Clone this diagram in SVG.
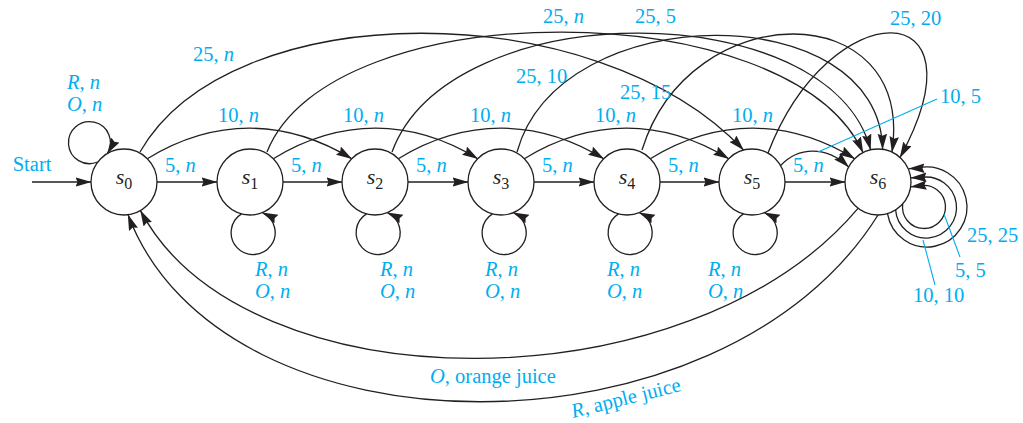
<svg xmlns="http://www.w3.org/2000/svg" width="1023" height="423" viewBox="0 0 1023 423">
<style>
.e{fill:none;stroke:#231f20;stroke-width:1.3;marker-end:url(#ah)}
.n{fill:#fff;stroke:#231f20;stroke-width:1.3}
.l{font-family:"Liberation Serif","Times New Roman",serif;font-size:20.5px;fill:#00aeef}
.i{font-style:italic}
.s{font-family:"Liberation Serif","Times New Roman",serif;font-size:22px;fill:#231f20}
.sub{font-size:16px;font-style:normal}
.ld{stroke:#00aeef;stroke-width:1.1;fill:none}
</style>
<defs>
<marker id="ah" markerWidth="17" markerHeight="10" refX="15.5" refY="4.75" orient="auto" markerUnits="userSpaceOnUse">
<path d="M0,0 L16,4.75 L0,9.5 L2,4.75 z" fill="#231f20"/>
</marker>
</defs>
<rect width="1023" height="423" fill="#fff"/>
<g id="connectors">
<path class="e" d="M32,182 L91,182"/>
<path class="e" d="M157,182 L217,182"/>
<path class="e" d="M283,182 L342,182"/>
<path class="e" d="M408,182 L468,182"/>
<path class="e" d="M534,182 L594,182"/>
<path class="e" d="M660,182 L719,182"/>
<path class="e" d="M785,182 L845,182"/>
<path class="e" d="M147.3,158.7 C214,118 285,118 351.7,158.7"/>
<path class="e" d="M273.3,158.7 C340,118 411,118 477.7,158.7"/>
<path class="e" d="M398.3,158.7 C465,118 537,118 603.7,158.7"/>
<path class="e" d="M524.3,158.7 C591,118 662,118 728.7,158.7"/>
<path class="e" d="M650.3,158.7 C717,118 788,118 854.7,158.7"/>
<path class="e" d="M780.6,165.5 C798,147 826,145 848.6,167"/>
<path class="e" d="M140,152 C230,-6 597,-6 743.5,150"/>
<path class="e" d="M267,152 C330,-8 790,-8 863,152.6"/>
<path class="e" d="M392,152 C450,-6 830,-6 870.6,149.8"/>
<path class="e" d="M517,152 C560,-3 880,-3 882.6,149.3"/>
<path class="e" d="M642,150 C690,-5 915,-5 892,152"/>
<path class="e" d="M768,153 C830,-8 990,-8 900,157.5"/>
<path class="e" d="M97.6,162 A21,21 0 1 1 107.5,153.4"/>
<path class="e" d="M241.5,213.9 A22,22 0 1 0 262.4,212.6"/>
<path class="e" d="M366.5,213.9 A22,22 0 1 0 387.4,212.6"/>
<path class="e" d="M492.5,213.9 A22,22 0 1 0 513.4,212.6"/>
<path class="e" d="M618.5,213.9 A22,22 0 1 0 639.4,212.6"/>
<path class="e" d="M743.5,213.9 A22,22 0 1 0 764.4,212.6"/>
<path class="e" d="M902.7,203.9 A21.5,21.5 0 1 0 920.3,185.8 L911,186.8"/>
<path class="e" d="M895.6,209.9 A30.5,30.5 0 1 0 920.7,177.5 L911,177.8"/>
<path class="e" d="M887.5,213.6 A40,40 0 1 0 916.6,168.4 L909,168.6"/>
<path class="e" d="M858,208.4 C690,408 245,408 140.5,210.6"/>
<path class="e" d="M878,215 C723,464 222,464 128,214.8"/>
<path class="ld" d="M818,152 L937,99"/>
<path class="ld" d="M944,214 L960,257"/>
<path class="ld" d="M923,240 L935,285"/>
</g>
<g id="s0"><circle class="n" cx="124" cy="182" r="33"/><text class="s" x="124" y="184" text-anchor="middle"><tspan class="i">s</tspan><tspan class="sub" dy="5">0</tspan></text></g>
<g id="s1"><circle class="n" cx="250" cy="182" r="33"/><text class="s" x="250" y="184" text-anchor="middle"><tspan class="i">s</tspan><tspan class="sub" dy="5">1</tspan></text></g>
<g id="s2"><circle class="n" cx="375" cy="182" r="33"/><text class="s" x="375" y="184" text-anchor="middle"><tspan class="i">s</tspan><tspan class="sub" dy="5">2</tspan></text></g>
<g id="s3"><circle class="n" cx="501" cy="182" r="33"/><text class="s" x="501" y="184" text-anchor="middle"><tspan class="i">s</tspan><tspan class="sub" dy="5">3</tspan></text></g>
<g id="s4"><circle class="n" cx="627" cy="182" r="33"/><text class="s" x="627" y="184" text-anchor="middle"><tspan class="i">s</tspan><tspan class="sub" dy="5">4</tspan></text></g>
<g id="s5"><circle class="n" cx="752" cy="182" r="33"/><text class="s" x="752" y="184" text-anchor="middle"><tspan class="i">s</tspan><tspan class="sub" dy="5">5</tspan></text></g>
<g id="s6"><circle class="n" cx="878" cy="182" r="33"/><text class="s" x="878" y="184" text-anchor="middle"><tspan class="i">s</tspan><tspan class="sub" dy="5">6</tspan></text></g>
<g id="labels">
<text class="l" x="12.7" y="171">Start</text>
<text class="l" x="67" y="89"><tspan class="i">R</tspan>, <tspan class="i">n</tspan></text>
<text class="l" x="67" y="111"><tspan class="i">O</tspan>, <tspan class="i">n</tspan></text>
<text class="l" x="193" y="61">25, <tspan class="i">n</tspan></text>
<text class="l" x="543" y="23">25, <tspan class="i">n</tspan></text>
<text class="l" x="635" y="23">25, 5</text>
<text class="l" x="516" y="83">25, 10</text>
<text class="l" x="620" y="99">25, 15</text>
<text class="l" x="890" y="25">25, 20</text>
<text class="l" x="940" y="103">10, 5</text>
<text class="l" x="218" y="122">10, <tspan class="i">n</tspan></text>
<text class="l" x="343" y="122">10, <tspan class="i">n</tspan></text>
<text class="l" x="470" y="122">10, <tspan class="i">n</tspan></text>
<text class="l" x="595" y="122">10, <tspan class="i">n</tspan></text>
<text class="l" x="732" y="122">10, <tspan class="i">n</tspan></text>
<text class="l" x="165" y="172">5, <tspan class="i">n</tspan></text>
<text class="l" x="291" y="172">5, <tspan class="i">n</tspan></text>
<text class="l" x="416" y="172">5, <tspan class="i">n</tspan></text>
<text class="l" x="542" y="172">5, <tspan class="i">n</tspan></text>
<text class="l" x="668" y="172">5, <tspan class="i">n</tspan></text>
<text class="l" x="793" y="172">5, <tspan class="i">n</tspan></text>
<text class="l" x="255" y="276"><tspan class="i">R</tspan>, <tspan class="i">n</tspan></text>
<text class="l" x="255" y="298"><tspan class="i">O</tspan>, <tspan class="i">n</tspan></text>
<text class="l" x="380" y="276"><tspan class="i">R</tspan>, <tspan class="i">n</tspan></text>
<text class="l" x="380" y="298"><tspan class="i">O</tspan>, <tspan class="i">n</tspan></text>
<text class="l" x="485" y="276"><tspan class="i">R</tspan>, <tspan class="i">n</tspan></text>
<text class="l" x="485" y="298"><tspan class="i">O</tspan>, <tspan class="i">n</tspan></text>
<text class="l" x="607" y="276"><tspan class="i">R</tspan>, <tspan class="i">n</tspan></text>
<text class="l" x="607" y="298"><tspan class="i">O</tspan>, <tspan class="i">n</tspan></text>
<text class="l" x="708" y="276"><tspan class="i">R</tspan>, <tspan class="i">n</tspan></text>
<text class="l" x="708" y="298"><tspan class="i">O</tspan>, <tspan class="i">n</tspan></text>
<text class="l" x="967" y="242">25, 25</text>
<text class="l" x="955" y="277">5, 5</text>
<text class="l" x="913" y="302">10, 10</text>
<text class="l" x="430" y="383"><tspan class="i">O</tspan>, orange juice</text>
<text class="l" x="573" y="418" transform="rotate(-14 573 418)"><tspan class="i">R</tspan>, apple juice</text>
</g>
</svg>
